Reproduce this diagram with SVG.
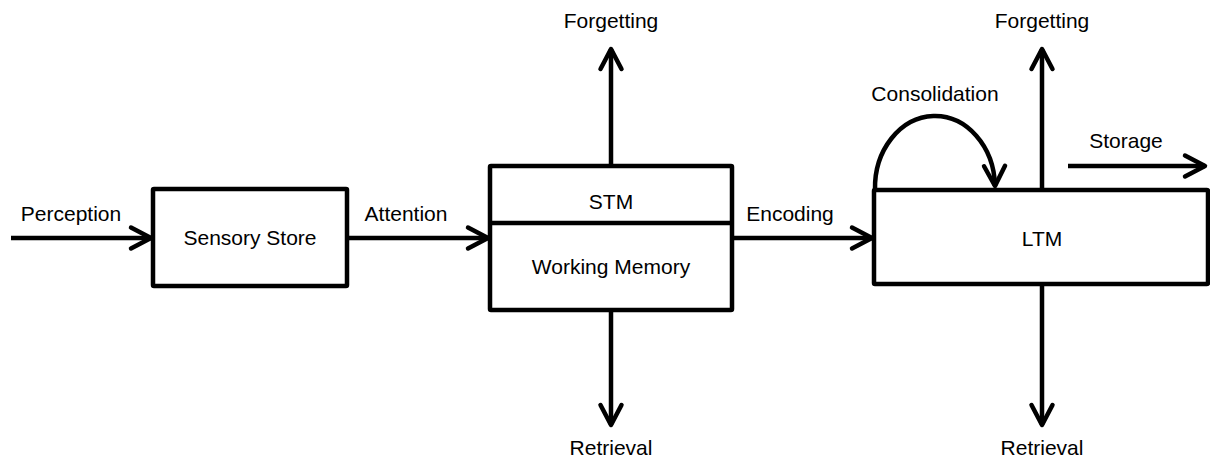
<svg xmlns="http://www.w3.org/2000/svg" width="1210" height="464" viewBox="0 0 1210 464">
<style>
  .box { fill: #fff; stroke: #000; stroke-width: 4.5; stroke-linejoin: round; }
  .ln { fill: none; stroke: #000; stroke-width: 4.5; stroke-linecap: butt; }
  text { font-family: "Liberation Sans", Arial, sans-serif; font-size: 21px; fill: #000; text-anchor: middle; }
</style>
<defs>
  <marker id="ah" viewBox="-26 -16 30 32" markerWidth="30" markerHeight="32" refX="0" refY="0" orient="auto" markerUnits="userSpaceOnUse" overflow="visible">
    <path d="M -20 -10.5 L 0 0 L -20 10.5" fill="none" stroke="#000" stroke-width="4.5" stroke-linecap="round" stroke-linejoin="round"/>
  </marker>
</defs>
<rect width="1210" height="464" fill="#fff"/>
<g id="connectors">
  <line class="ln" x1="11" y1="238" x2="151" y2="238" marker-end="url(#ah)"/>
  <line class="ln" x1="347" y1="238" x2="488" y2="238" marker-end="url(#ah)"/>
  <line class="ln" x1="732" y1="238" x2="872" y2="238" marker-end="url(#ah)"/>
  <line class="ln" x1="611" y1="166" x2="611" y2="49" marker-end="url(#ah)"/>
  <line class="ln" x1="611" y1="310" x2="611" y2="425" marker-end="url(#ah)"/>
  <line class="ln" x1="1042" y1="190" x2="1042" y2="49" marker-end="url(#ah)"/>
  <line class="ln" x1="1042" y1="284" x2="1042" y2="425" marker-end="url(#ah)"/>
  <line class="ln" x1="1068" y1="166" x2="1205" y2="166" marker-end="url(#ah)"/>
  <path class="ln" d="M 875 190 A 60 72 0 0 1 995 186" marker-end="url(#ah)"/>
</g>
<g id="labels">
  <text x="71" y="221">Perception</text>
  <text x="406" y="221">Attention</text>
  <text x="790" y="221">Encoding</text>
  <text x="611" y="28">Forgetting</text>
  <text x="611" y="455">Retrieval</text>
  <text x="1042" y="28">Forgetting</text>
  <text x="1042" y="455">Retrieval</text>
  <text x="935" y="101">Consolidation</text>
  <text x="1126" y="148">Storage</text>
</g>
<g id="sensory-store">
  <rect class="box" x="153" y="189" width="194" height="97" rx="1"/>
  <text x="250" y="245">Sensory Store</text>
</g>
<g id="stm-working-memory">
  <rect class="box" x="490" y="166" width="242" height="144" rx="1"/>
  <line class="ln" x1="490" y1="223" x2="732" y2="223"/>
  <text x="611" y="209">STM</text>
  <text x="611" y="274">Working Memory</text>
</g>
<g id="ltm">
  <rect class="box" x="874" y="190" width="334" height="94" rx="1"/>
  <text x="1042" y="246">LTM</text>
</g>
</svg>
